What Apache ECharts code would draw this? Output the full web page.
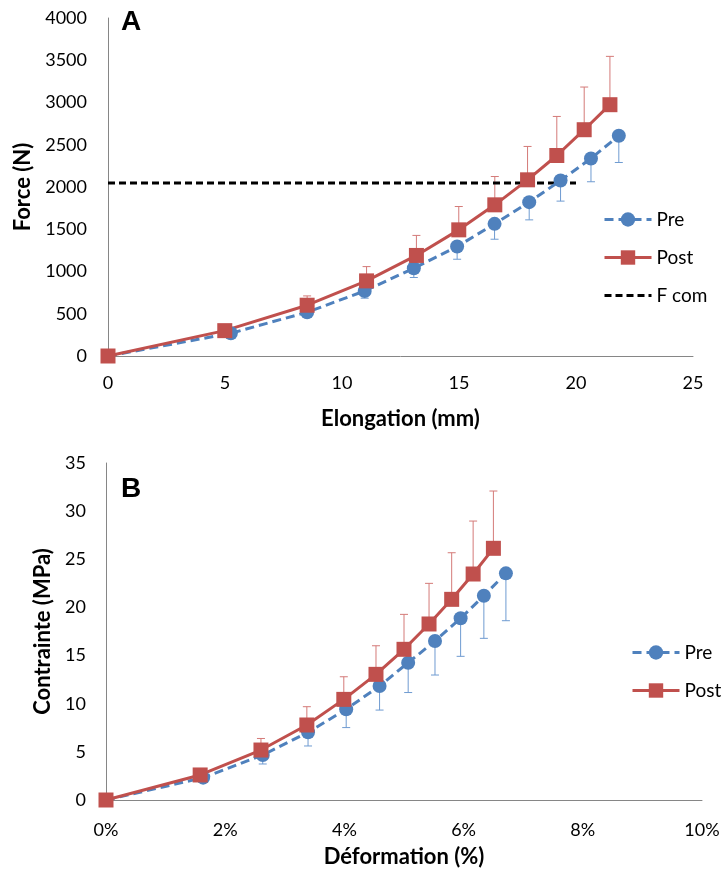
<!DOCTYPE html>
<html>
<head>
<meta charset="utf-8">
<script src="https://cdn.jsdelivr.net/npm/echarts@6/dist/echarts.min.js"></script>
<style>html,body{margin:0;padding:0;background:#fff}#c{width:723px;height:878px}</style>
</head>
<body>
<div id="c"></div>
<script>
// Panel A: Force (N) vs Elongation (mm)
var preA_x  = [0, 5.25, 8.51, 10.97, 13.07, 14.92, 16.52, 18.0, 19.34, 20.64, 21.83];
var preA_y  = [0, 269, 518, 770, 1039, 1295, 1564, 1821, 2077, 2338, 2607];
var preA_err = [0, 40, 60, 86, 110, 150, 182, 210, 244, 276, 317];
var postA_x = [0, 4.99, 8.51, 11.05, 13.18, 14.99, 16.53, 17.93, 19.18, 20.35, 21.45];
var postA_y = [0, 300, 601, 889, 1190, 1493, 1789, 2085, 2373, 2678, 2974];
var postA_err = [0, 40, 110, 169, 237, 276, 335, 395, 462, 505, 572];
var fcom_x = [0, 20];
var fcom_y = [2046, 2046];
// Panel B: Contrainte (MPa) vs Déformation (%)
var preB_x  = [0, 1.63, 2.63, 3.39, 4.03, 4.59, 5.07, 5.52, 5.95, 6.34, 6.71];
var preB_y  = [0, 2.32, 4.67, 7.03, 9.42, 11.84, 14.26, 16.51, 18.87, 21.22, 23.54];
var preB_err = [0, 0.4, 0.93, 1.42, 1.9, 2.5, 3.1, 3.53, 3.95, 4.43, 4.92];
var postB_x = [0, 1.58, 2.60, 3.37, 3.99, 4.53, 5.0, 5.42, 5.80, 6.16, 6.5];
var postB_y = [0, 2.6, 5.19, 7.79, 10.45, 13.05, 15.65, 18.28, 20.84, 23.47, 26.14];
var postB_err = [0, 0.4, 1.2, 1.9, 2.35, 2.97, 3.63, 4.22, 4.84, 5.5, 5.95];

var FONT = 'Lato';
var BLUE = '#4F81BD', RED = '#C0504D';

function zip(a, b, c) { return a.map(function (v, i) { return c ? [v, b[i], c[i]] : [v, b[i]]; }); }

function errSeries(xi, yi, x, y, e, dir, color) {
  return {
    type: 'custom', xAxisIndex: xi, yAxisIndex: yi, z: 1, silent: true,
    data: zip(x, y, e),
    renderItem: function (params, api) {
      var vx = api.value(0), vy = api.value(1), ve = api.value(2);
      if (!ve) return null;
      var p0 = api.coord([vx, vy]);
      var p1 = api.coord([vx, vy + dir * ve]);
      return {
        type: 'group',
        children: [
          { type: 'line', shape: { x1: p0[0], y1: p0[1], x2: p1[0], y2: p1[1] }, style: { stroke: color, lineWidth: 1 } },
          { type: 'line', shape: { x1: p1[0] - 4, y1: p1[1], x2: p1[0] + 4, y2: p1[1] }, style: { stroke: color, lineWidth: 1 } }
        ]
      };
    }
  };
}

function lineSeries(name, xi, yi, data, color, dashed, symbol) {
  return {
    name: name, type: 'line', xAxisIndex: xi, yAxisIndex: yi, z: 3,
    data: data, symbol: symbol, symbolSize: symbol === 'rect' ? 15 : 14,
    showAllSymbol: true, clip: false, animation: false,
    lineStyle: { color: color, width: 3, type: dashed ? [9, 5] : 'solid' },
    itemStyle: { color: color, borderWidth: 0 }
  };
}

var axisLine = { show: true, lineStyle: { color: '#868686', width: 1 } };
var tickLbl = { fontFamily: FONT, fontSize: 18, color: '#000' };
var nameTxt = { fontFamily: FONT, fontSize: 22, fontWeight: 'bold', color: '#000' };
var rawFmt = function (v) { return String(v); };

var option = {
  animation: false,
  backgroundColor: '#fff',
  title: [
    { text: 'A', left: 121, top: 8, padding: 0, textStyle: { fontFamily: 'Liberation Sans', fontSize: 28, fontWeight: 'bold', color: '#000' } },
    { text: 'B', left: 121, top: 475, padding: 0, textStyle: { fontFamily: 'Liberation Sans', fontSize: 28, fontWeight: 'bold', color: '#000' } }
  ],
  grid: [
    { left: 108, top: 18, width: 585, height: 338 },
    { left: 106, top: 463, width: 596, height: 337 }
  ],
  xAxis: [
    { type: 'value', gridIndex: 0, min: 0, max: 25, interval: 5, splitLine: { show: false },
      axisLine: axisLine, axisTick: { show: false }, axisLabel: Object.assign({ margin: 18, formatter: rawFmt }, tickLbl),
      name: 'Elongation (mm)', nameLocation: 'middle', nameGap: 52, nameTextStyle: nameTxt },
    { type: 'value', gridIndex: 1, min: 0, max: 10, interval: 2, splitLine: { show: false },
      axisLine: axisLine, axisTick: { show: false }, axisLabel: Object.assign({ margin: 21, formatter: '{value}%' }, tickLbl),
      name: 'Déformation (%)', nameLocation: 'middle', nameGap: 46, nameTextStyle: nameTxt }
  ],
  yAxis: [
    { type: 'value', gridIndex: 0, min: 0, max: 4000, interval: 500, splitLine: { show: false },
      axisLine: axisLine, axisTick: { show: false }, axisLabel: Object.assign({ margin: 21, formatter: rawFmt }, tickLbl),
      name: 'Force (N)', nameLocation: 'middle', nameGap: 67, nameTextStyle: nameTxt },
    { type: 'value', gridIndex: 1, min: 0, max: 35, interval: 5, splitLine: { show: false },
      axisLine: axisLine, axisTick: { show: false }, axisLabel: Object.assign({ margin: 20, formatter: rawFmt }, tickLbl),
      name: 'Contrainte (MPa)', nameLocation: 'middle', nameGap: 46, nameTextStyle: nameTxt }
  ],
  legend: [
    { orient: 'vertical', left: 603, top: 210, itemWidth: 47, itemHeight: 18, itemGap: 19, padding: 0,
      lineStyle: { width: 3 },
      textStyle: { fontFamily: FONT, fontSize: 19, color: '#000', lineHeight: 18 },
      data: ['Pre', 'Post', { name: 'F com', itemStyle: { opacity: 0 } }] },
    { orient: 'vertical', left: 631, top: 643, itemWidth: 47, itemHeight: 18, itemGap: 19, padding: 0,
      lineStyle: { width: 3 },
      textStyle: { fontFamily: FONT, fontSize: 19, color: '#000', lineHeight: 18 },
      data: ['Pre', 'Post'] }
  ],
  series: [
    errSeries(0, 0, preA_x, preA_y, preA_err, -1, '#6f9bd1'),
    errSeries(0, 0, postA_x, postA_y, postA_err, 1, '#d47a78'),
    { name: 'F com', type: 'line', xAxisIndex: 0, yAxisIndex: 0, z: 2, data: zip(fcom_x, fcom_y),
      symbol: 'none', lineStyle: { color: '#000', width: 3, type: [7, 4] }, itemStyle: { color: '#000' } },
    lineSeries('Pre', 0, 0, zip(preA_x, preA_y), BLUE, true, 'circle'),
    lineSeries('Post', 0, 0, zip(postA_x, postA_y), RED, false, 'rect'),
    errSeries(1, 1, preB_x, preB_y, preB_err, -1, '#6f9bd1'),
    errSeries(1, 1, postB_x, postB_y, postB_err, 1, '#d47a78'),
    lineSeries('Pre', 1, 1, zip(preB_x, preB_y), BLUE, true, 'circle'),
    lineSeries('Post', 1, 1, zip(postB_x, postB_y), RED, false, 'rect')
  ]
};

var chart = echarts.init(document.getElementById('c'), null, { renderer: 'canvas' });
chart.setOption(option);
</script>
</body>
</html>
